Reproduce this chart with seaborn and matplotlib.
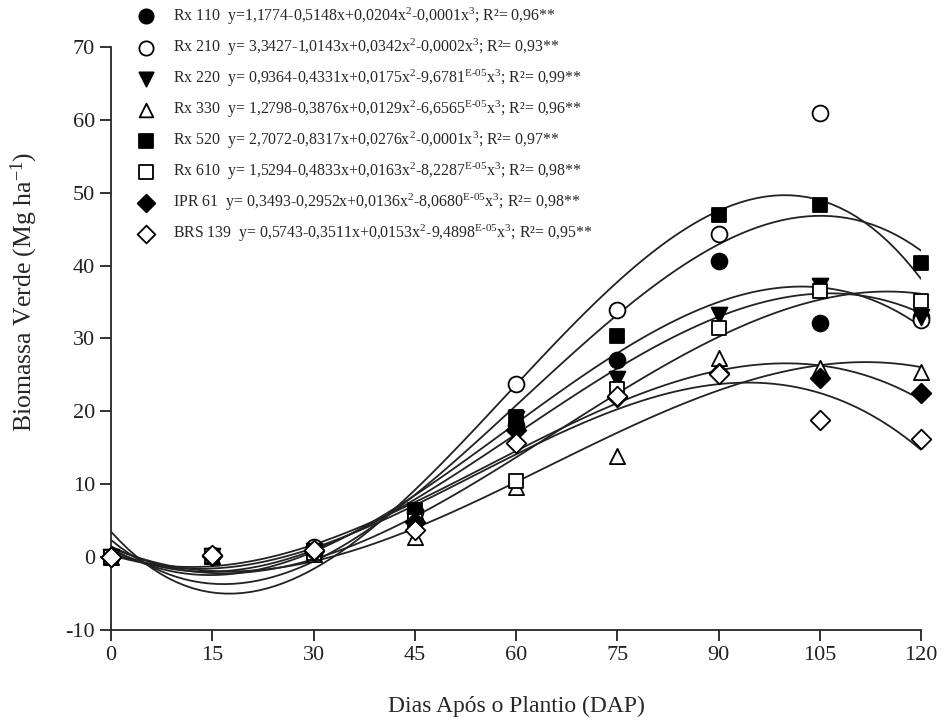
import matplotlib
matplotlib.use("Agg")
import matplotlib.pyplot as plt
import seaborn as sns
import numpy as np
import pandas as pd

# ---- data ----
dap = [0, 15, 30, 45, 60, 75, 90, 105, 120]
rx110 = [0, 0.3, 0.6, 6.2, 18.1, 27.1, 40.7, 32.1, 32.9]
rx210 = [0, 0.3, 1.4, 5.0, 23.8, 33.9, 44.4, 60.9, 32.6]
rx220 = [0, 0.2, 0.8, 5.5, 19.0, 24.5, 33.2, 37.2, 32.9]
rx330 = [0, 0.2, 0.4, 2.8, 9.6, 13.9, 27.3, 25.9, 25.4]
rx520 = [0, 0.2, 0.8, 6.4, 19.2, 30.3, 46.9, 48.3, 40.4]
rx610 = [0, 0.2, 0.6, 5.0, 10.5, 23.1, 31.4, 36.5, 35.1]
ipr61 = [0, 0.2, 0.8, 4.8, 17.4, 22.0, 25.2, 24.6, 22.5]
brs139 = [0, 0.3, 1.0, 3.7, 15.6, 22.1, 25.1, 18.8, 16.2]

names = ["Rx 110", "Rx 210", "Rx 220", "Rx 330", "Rx 520", "Rx 610", "IPR 61", "BRS 139"]
equations = [
    r"y=1,1774-0,5148x+0,0204x$^{2}$-0,0001x$^{3}$; R²= 0,96**",
    r"y= 3,3427-1,0143x+0,0342x$^{2}$-0,0002x$^{3}$; R²= 0,93**",
    r"y= 0,9364-0,4331x+0,0175x$^{2}$-9,6781$^{\text{E-05}}$x$^{3}$; R²= 0,99**",
    r"y= 1,2798-0,3876x+0,0129x$^{2}$-6,6565$^{\text{E-05}}$x$^{3}$; R²= 0,96**",
    r"y= 2,7072-0,8317x+0,0276x$^{2}$-0,0001x$^{3}$; R²= 0,97**",
    r"y= 1,5294-0,4833x+0,0163x$^{2}$-8,2287$^{\text{E-05}}$x$^{3}$; R²= 0,98**",
    r"y= 0,3493-0,2952x+0,0136x$^{2}$-8,0680$^{\text{E-05}}$x$^{3}$; R²= 0,98**",
    r"y= 0,5743-0,3511x+0,0153x$^{2}$-9,4898$^{\text{E-05}}$x$^{3}$; R²= 0,95**",
]
series = [rx110, rx210, rx220, rx330, rx520, rx610, ipr61, brs139]
markers = ["o", "o", "v", "^", "s", "s", "D", "D"]
filled = [True, False, True, False, True, False, True, False]
msizes = [130, 130, 130, 120, 110, 110, 100, 100]

sns.set_style("ticks")
plt.rcParams["font.family"] = ["Liberation Serif", "DejaVu Serif"]
plt.rcParams["mathtext.fontset"] = "custom"
plt.rcParams["mathtext.rm"] = "Liberation Serif"
plt.rcParams["mathtext.it"] = "Liberation Serif:italic"
plt.rcParams["mathtext.bf"] = "Liberation Serif:bold"
plt.rcParams["axes.unicode_minus"] = False

fig = plt.figure(figsize=(9.45, 7.26), dpi=100)
ax = fig.add_axes([0.1175, 0.1322, 0.8571, 0.8031])

# regression curves
for vals in series:
    df = pd.DataFrame({"dap": dap, "y": vals})
    sns.regplot(data=df, x="dap", y="y", order=3, ci=None, scatter=False,
                ax=ax, truncate=True,
                line_kws=dict(color="#222222", lw=1.3, zorder=2))

# points
handles = []
for name, eq, vals, m, f, s in zip(names, equations, series, markers, filled, msizes):
    df = pd.DataFrame({"dap": dap, "y": vals})
    sns.scatterplot(data=df, x="dap", y="y", marker=m, s=s, ax=ax,
                    color="black" if f else "white", edgecolor="black",
                    linewidth=1.3, zorder=3, legend=False)
    h = ax.collections[-1]
    h.set_clip_on(False)
    h.set_label(name + "  " + eq)
    handles.append(h)

if ax.get_legend() is not None:
    ax.get_legend().remove()

ax.set_xlim(0, 120)
ax.set_ylim(-10, 70)
ax.set_xticks(dap)
ax.set_yticks(range(-10, 71, 10))
for sp in ["top", "right"]:
    ax.spines[sp].set_visible(False)
for sp in ["left", "bottom"]:
    ax.spines[sp].set_linewidth(1.3)
ax.tick_params(direction="out", length=8, width=1.3, labelsize=16, colors="#222222")
ax.set_xlabel("Dias Após o Plantio (DAP)", fontsize=17, labelpad=22)
ax.set_ylabel(r"Biomassa Verde (Mg ha$^{-1}$)", fontsize=18.5)
ax.yaxis.set_label_coords(-0.088, 0.58)

leg = fig.legend(handles=handles, loc="upper left", bbox_to_anchor=(0.133, 1.008),
                 frameon=False, fontsize=11.4, labelspacing=0.62,
                 handletextpad=1.1, borderpad=0.2, handlelength=1.2,
                 markerscale=0.9)

fig.savefig("out.png", dpi=100)
